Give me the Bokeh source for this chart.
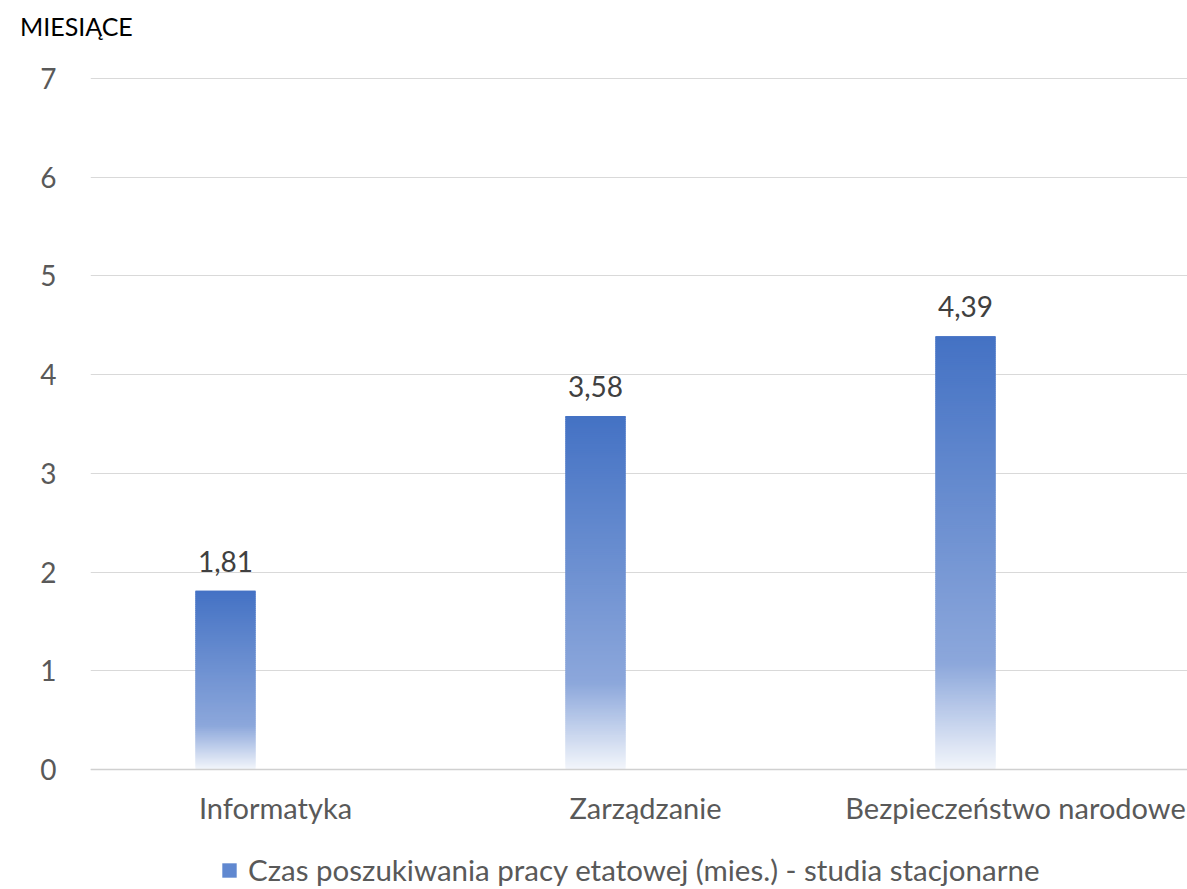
import numpy as np
from bokeh.plotting import figure
from bokeh.layouts import column
from bokeh.models import (Range1d, FixedTicker, ColumnDataSource, LabelSet, Div,
                          Legend, LegendItem, Span)
from bokeh.core.properties import value
from bokeh.embed import file_html
from bokeh.resources import INLINE

categories = ["Informatyka", "Zarządzanie", "Bezpieczeństwo narodowe"]
values = [1.81, 3.58, 4.39]
series_name = "Czas poszukiwania pracy etatowej (mies.) - studia stacjonarne"
y_title = "MIESIĄCE"
y_ticks = [0, 1, 2, 3, 4, 5, 6, 7]

FONT = "Lato"
W, H = 1187, 889
HEAD = 50                # height of the title strip above the figure
LEFT, TOP7 = 90, 78      # pixel column of frame left, pixel row of value 7 (page)
PAD_TOP = 3
ZERO_Y = 769            # pixel row of the value axis zero (page)
cat_px = 370.0
frame_w = W - LEFT
xmax = frame_w / cat_px
offset = -50 / cat_px
bar_w = 60 / cat_px
px_per_unit = (ZERO_Y - TOP7) / 7.0
ymin = -(H - ZERO_Y) / px_per_unit
ymax = 7 + PAD_TOP / px_per_unit

p = figure(width=W, height=H - HEAD, output_backend="svg", toolbar_location=None,
           x_range=Range1d(0, xmax), y_range=Range1d(ymin, ymax),
           min_border_left=LEFT, min_border_right=0,
           min_border_top=TOP7 - PAD_TOP - HEAD, min_border_bottom=0)
p.outline_line_color = None
p.background_fill_color = "white"

# gradient stops (t: 0 bottom -> 1 top)
stops_t = [0.0, 0.245, 1.0]
stops_c = [(243, 246, 251), (140, 167, 219), (68, 114, 196)]

def grad_color(t):
    r = np.interp(t, stops_t, [c[0] for c in stops_c])
    g = np.interp(t, stops_t, [c[1] for c in stops_c])
    b = np.interp(t, stops_t, [c[2] for c in stops_c])
    return "#%02x%02x%02x" % (int(round(r)), int(round(g)), int(round(b)))

xs, bots, tops, cols = [], [], [], []
for i, v in enumerate(values):
    xc = i + 0.5 + offset
    n = max(int(v * px_per_unit / 2.0), 10)
    edges = np.linspace(0, v, n + 1)
    step = v / n
    for k in range(n):
        xs.append(xc)
        bots.append(edges[k])
        tops.append(min(edges[k + 1] + step * 1.5, v))
        cols.append(grad_color((k + 0.5) / n))
src = ColumnDataSource(dict(x=xs, bottom=bots, top=tops, color=cols))
p.vbar(x="x", bottom="bottom", top="top", width=bar_w, fill_color="color",
       line_color=None, source=src)

# dummy renderer for legend
dummy = p.vbar(x=[-10], top=[0], width=0.1, fill_color="#6088d0", line_color=None)

# data labels
lab_src = ColumnDataSource(dict(x=[i + 0.5 + offset for i in range(len(values))],
                                y=values,
                                t=[("%.2f" % v).replace(".", ",") for v in values]))
p.add_layout(LabelSet(x="x", y="y", text="t", source=lab_src, y_offset=19,
                      text_align="center", text_baseline="bottom",
                      text_font=value(FONT), text_font_size="28px", text_color="#404040"))

# category labels under the zero line
cat_src = ColumnDataSource(dict(x=[i + 0.5 for i in range(len(categories))],
                                y=[0] * len(categories), t=categories))
p.add_layout(LabelSet(x="x", y="y", text="t", source=cat_src, y_offset=-38,
                      text_align="center", text_baseline="middle",
                      text_font=value(FONT), text_font_size="29px", text_color="#595959"))

# axes
p.yaxis.ticker = FixedTicker(ticks=y_ticks)
p.yaxis.axis_line_color = None
p.yaxis.major_tick_line_color = None
p.yaxis.minor_tick_line_color = None
p.yaxis.major_label_standoff = 28
p.yaxis.major_label_text_font = FONT
p.yaxis.major_label_text_font_size = "28px"
p.yaxis.major_label_text_color = "#595959"
p.xaxis.visible = False

p.xgrid.grid_line_color = None
p.ygrid.grid_line_color = "#d9d9d9"
p.ygrid.grid_line_width = 1.2
p.add_layout(Span(location=0, dimension="width", line_color="#d0d0d0", line_width=1.6))

legend = Legend(items=[LegendItem(label=series_name, renderers=[dummy])],
                location=(130, 2), orientation="horizontal",
                glyph_width=18, glyph_height=18, label_standoff=10,
                label_text_font=FONT, label_text_font_size="29.5px",
                label_text_color="#595959", padding=0, margin=0, spacing=0,
                border_line_color=None, background_fill_alpha=0)
p.add_layout(legend, "center")

# axis title strip at the top-left
title_div = Div(text=y_title, width=300, height=HEAD,
                styles={"font-family": FONT, "font-size": "25px", "color": "#000000",
                        "padding-left": "20px", "padding-top": "14px",
                        "line-height": "1", "margin": "0"})

layout = column(title_div, p, spacing=0)
open("out.html", "w").write(file_html(layout, INLINE))
